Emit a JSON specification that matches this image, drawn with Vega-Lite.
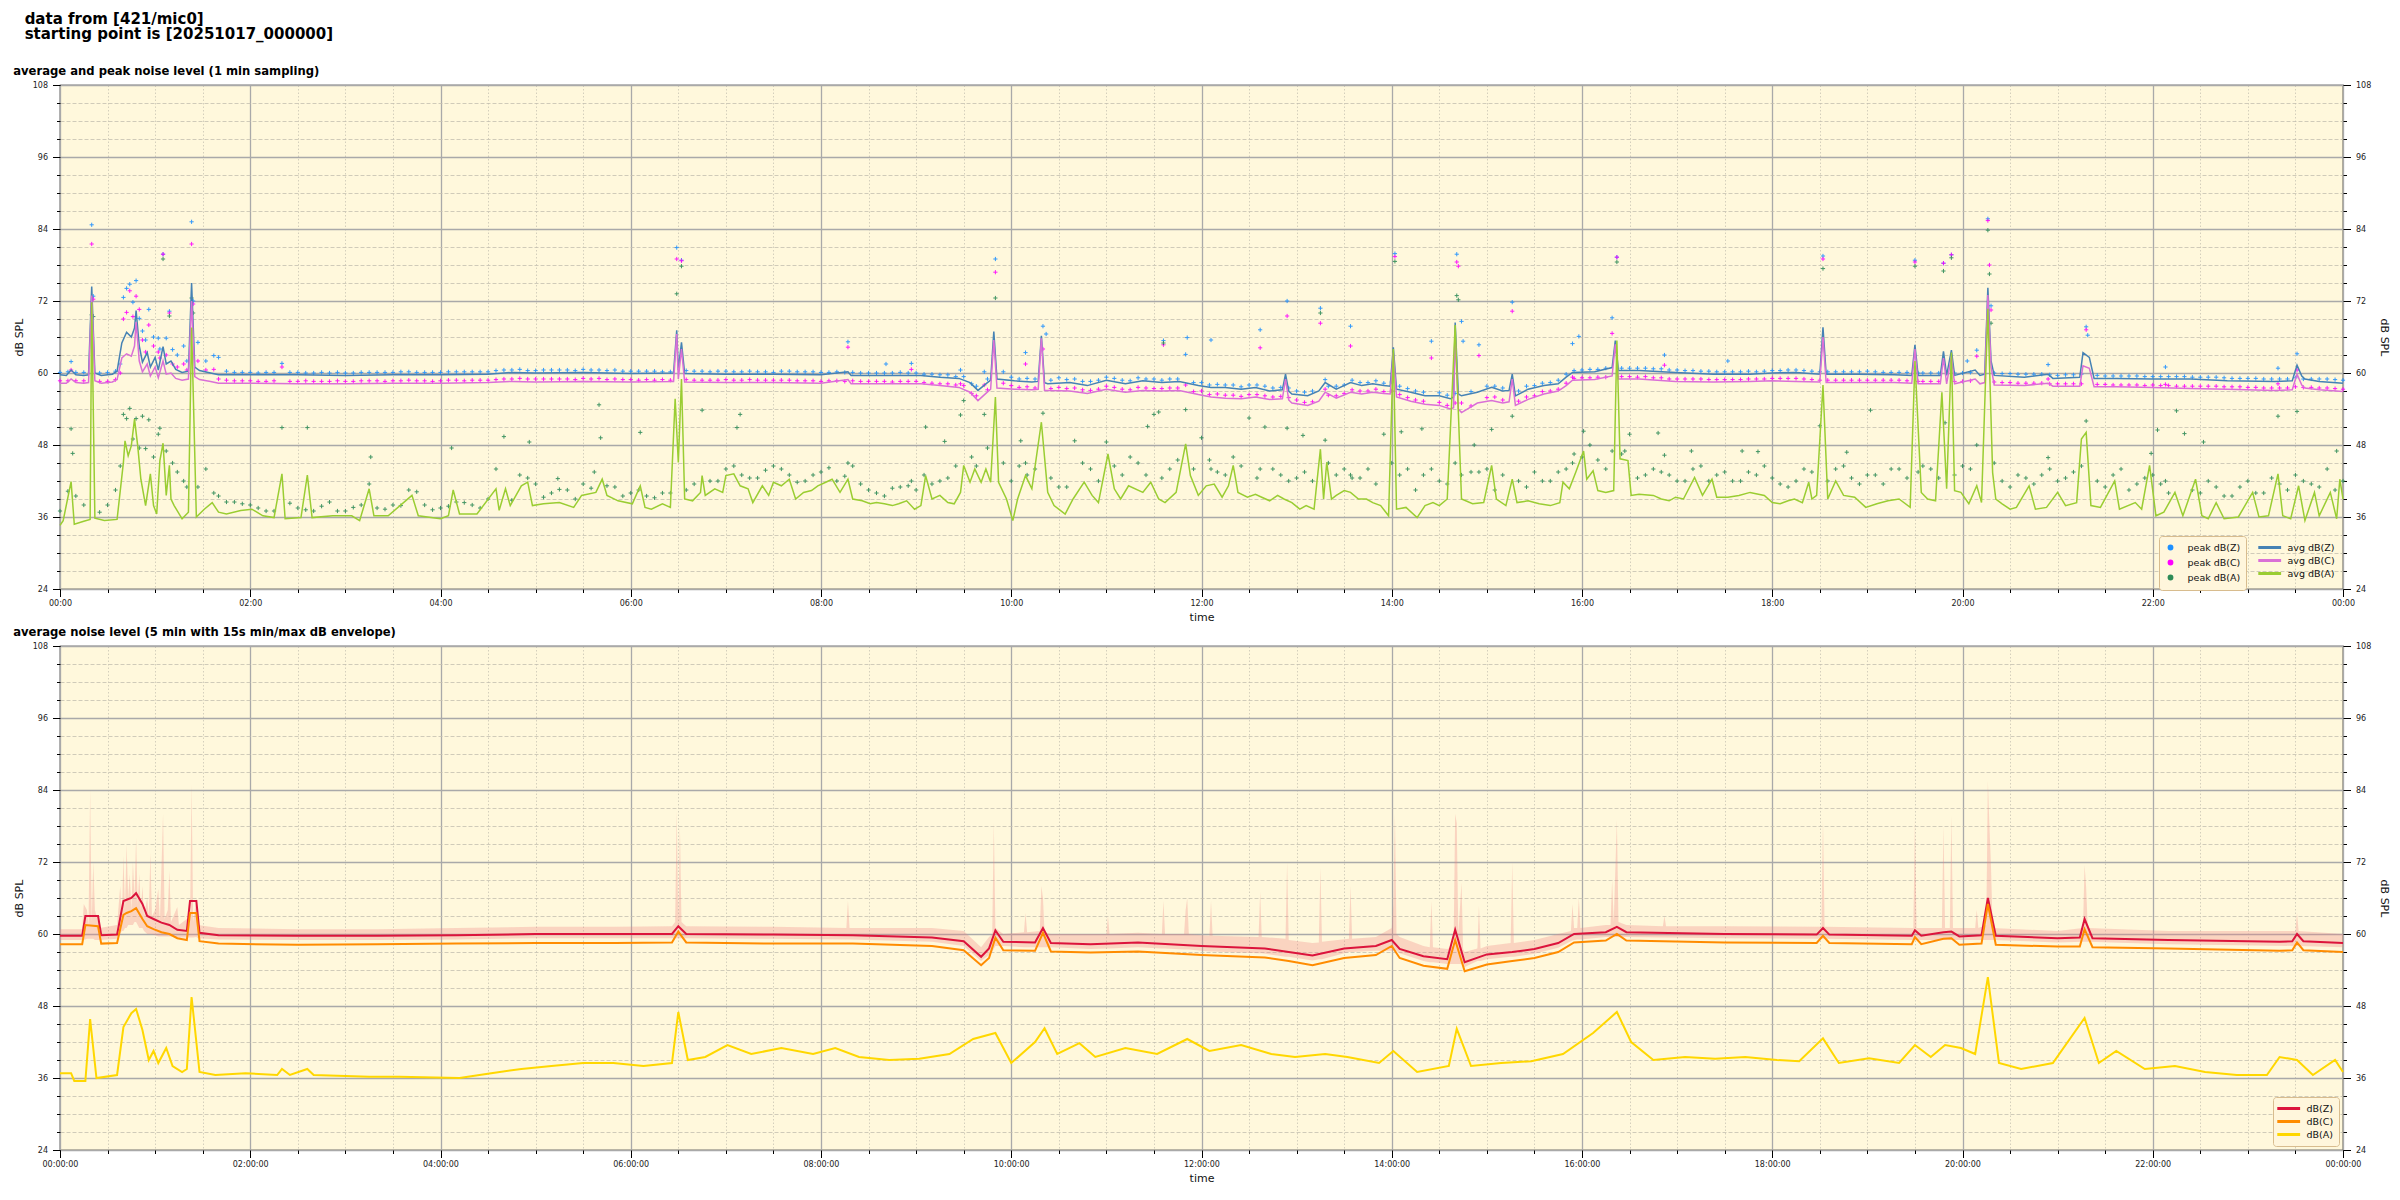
{
"$schema": "https://vega.github.io/schema/vega-lite/v6.json",
"background": "white",
"padding": {"left": 12, "top": 11, "right": 3, "bottom": 5},
"title": {"text": ["data from [421/mic0]", "starting point is [20251017_000000]"], "anchor": "start", "frame": "bounds", "fontSize": 15, "font": "DejaVu Sans", "fontWeight": "bold", "color": "black", "offset": 24, "dx": 12, "lineHeight": 15},
"config": {
  "font": "DejaVu Sans",
  "view": {"fill": "#fff8dc", "stroke": "black", "strokeWidth": 1.2},
  "mark": {"invalid": "filter"},
  "axis": {"labelFont": "DejaVu Sans", "titleFont": "DejaVu Sans", "labelFontSize": 8, "titleFontSize": 11, "titleFontWeight": "normal", "labelColor": "#222", "titleColor": "#111", "tickColor": "#000", "domain": false}
},
"resolve": {"scale": {"color": "independent", "stroke": "independent", "x": "independent", "y": "independent"}},
"spacing": 2,
"datasets": {
"zc": [{"m":0,"Z":59.7,"C":58.3},{"m":4,"Z":59.6,"C":58.3},{"m":7,"Z":60.5,"C":59.0},{"m":10,"Z":59.7,"C":58.4},{"m":15,"Z":59.6,"C":58.3},{"m":18,"Z":59.7,"C":58.4},{"m":20,"Z":74.4,"C":72.9},{"m":22,"Z":60.0,"C":58.7},{"m":26,"Z":59.6,"C":58.3},{"m":33,"Z":59.8,"C":58.5},{"m":36,"Z":60.3,"C":58.9},{"m":39,"Z":65.0,"C":62.5},{"m":42,"Z":66.8,"C":63.2},{"m":45,"Z":66.0,"C":62.8},{"m":47,"Z":67.5,"C":64.5},{"m":48,"Z":70.4,"C":68.5},{"m":50,"Z":64.5,"C":62.0},{"m":52,"Z":61.8,"C":60.2},{"m":55,"Z":63.4,"C":61.5},{"m":57,"Z":61.0,"C":59.5},{"m":60,"Z":62.6,"C":61.0},{"m":62,"Z":60.5,"C":59.2},{"m":65,"Z":64.4,"C":62.0},{"m":67,"Z":61.5,"C":59.8},{"m":70,"Z":62.0,"C":60.0},{"m":73,"Z":60.6,"C":59.1},{"m":77,"Z":60.1,"C":58.8},{"m":81,"Z":60.3,"C":59.0},{"m":83,"Z":75.0,"C":72.0},{"m":85,"Z":61.0,"C":59.4},{"m":88,"Z":60.4,"C":58.9},{"m":95,"Z":60.0,"C":58.6},{"m":100,"Z":59.7,"C":58.3},{"m":120,"Z":59.7,"C":58.3},{"m":150,"Z":59.7,"C":58.2},{"m":180,"Z":59.6,"C":58.2},{"m":210,"Z":59.7,"C":58.3},{"m":240,"Z":59.7,"C":58.3},{"m":270,"Z":59.8,"C":58.4},{"m":285,"Z":60.1,"C":58.6},{"m":300,"Z":60.0,"C":58.5},{"m":330,"Z":60.1,"C":58.6},{"m":360,"Z":59.9,"C":58.5},{"m":387,"Z":60.0,"C":58.6},{"m":389,"Z":67.1,"C":66.5},{"m":390,"Z":60.5,"C":59.0},{"m":392,"Z":65.1,"C":64.0},{"m":394,"Z":59.9,"C":58.5},{"m":420,"Z":59.8,"C":58.4},{"m":450,"Z":59.8,"C":58.4},{"m":480,"Z":59.7,"C":58.3},{"m":497,"Z":60.2,"C":58.9},{"m":499,"Z":59.6,"C":58.2},{"m":520,"Z":59.6,"C":58.2},{"m":543,"Z":59.6,"C":58.2},{"m":555,"Z":59.3,"C":57.9},{"m":567,"Z":59.1,"C":57.6},{"m":574,"Z":58.4,"C":56.8},{"m":579,"Z":57.1,"C":55.4},{"m":584,"Z":58.2,"C":56.6},{"m":587,"Z":58.8,"C":57.3},{"m":589,"Z":66.9,"C":65.5},{"m":591,"Z":59.0,"C":57.5},{"m":602,"Z":58.7,"C":57.3},{"m":613,"Z":58.5,"C":57.2},{"m":617,"Z":58.6,"C":57.3},{"m":619,"Z":66.2,"C":65.8},{"m":621,"Z":58.4,"C":57.1},{"m":623,"Z":58.2,"C":57.1},{"m":637,"Z":58.4,"C":57.0},{"m":648,"Z":57.9,"C":56.6},{"m":660,"Z":58.8,"C":57.3},{"m":672,"Z":58.2,"C":56.8},{"m":683,"Z":58.7,"C":57.1},{"m":695,"Z":58.4,"C":57.0},{"m":706,"Z":58.6,"C":57.1},{"m":718,"Z":57.9,"C":56.4},{"m":726,"Z":57.6,"C":56.0},{"m":735,"Z":57.6,"C":55.8},{"m":745,"Z":57.3,"C":55.7},{"m":754,"Z":57.6,"C":56.0},{"m":763,"Z":57.0,"C":55.6},{"m":771,"Z":57.2,"C":55.7},{"m":773,"Z":59.8,"C":59.0},{"m":775,"Z":57.0,"C":55.5},{"m":777,"Z":56.5,"C":55.0},{"m":787,"Z":56.2,"C":54.6},{"m":794,"Z":57.0,"C":55.3},{"m":798,"Z":58.4,"C":56.8},{"m":805,"Z":57.3,"C":55.8},{"m":814,"Z":58.4,"C":56.8},{"m":821,"Z":57.9,"C":56.5},{"m":828,"Z":58.2,"C":56.8},{"m":835,"Z":57.9,"C":56.6},{"m":839,"Z":57.8,"C":56.5},{"m":841,"Z":64.3,"C":63.4},{"m":843,"Z":57.3,"C":56.0},{"m":852,"Z":56.8,"C":55.3},{"m":861,"Z":56.2,"C":54.8},{"m":870,"Z":56.2,"C":54.6},{"m":877,"Z":55.7,"C":54.0},{"m":879,"Z":56.0,"C":54.2},{"m":880,"Z":68.4,"C":66.2},{"m":882,"Z":56.5,"C":54.0},{"m":884,"Z":56.2,"C":53.4},{"m":894,"Z":56.8,"C":55.0},{"m":903,"Z":57.6,"C":55.4},{"m":910,"Z":57.0,"C":55.0},{"m":914,"Z":57.1,"C":55.2},{"m":916,"Z":59.8,"C":59.0},{"m":918,"Z":56.2,"C":54.6},{"m":926,"Z":57.3,"C":55.6},{"m":936,"Z":57.9,"C":56.5},{"m":945,"Z":58.2,"C":57.0},{"m":950,"Z":59.3,"C":57.9},{"m":954,"Z":60.1,"C":58.8},{"m":968,"Z":60.2,"C":58.9},{"m":979,"Z":60.9,"C":59.5},{"m":981,"Z":65.4,"C":64.8},{"m":983,"Z":60.4,"C":59.0},{"m":996,"Z":60.4,"C":59.0},{"m":1019,"Z":60.1,"C":58.6},{"m":1043,"Z":59.8,"C":58.5},{"m":1066,"Z":59.8,"C":58.6},{"m":1080,"Z":60.0,"C":58.7},{"m":1095,"Z":60.1,"C":58.6},{"m":1110,"Z":59.8,"C":58.5},{"m":1112,"Z":67.6,"C":66.0},{"m":1114,"Z":59.8,"C":58.4},{"m":1134,"Z":59.8,"C":58.4},{"m":1157,"Z":59.7,"C":58.4},{"m":1168,"Z":59.6,"C":58.3},{"m":1170,"Z":64.7,"C":64.0},{"m":1172,"Z":59.6,"C":58.2},{"m":1186,"Z":59.6,"C":58.2},{"m":1188,"Z":63.6,"C":62.5},{"m":1190,"Z":59.6,"C":58.2},{"m":1193,"Z":63.8,"C":62.8},{"m":1195,"Z":59.6,"C":58.2},{"m":1208,"Z":60.5,"C":59.0},{"m":1211,"Z":59.6,"C":58.2},{"m":1214,"Z":59.8,"C":58.4},{"m":1216,"Z":74.2,"C":73.0},{"m":1218,"Z":62.0,"C":61.0},{"m":1220,"Z":59.6,"C":58.0},{"m":1239,"Z":59.3,"C":57.9},{"m":1254,"Z":59.8,"C":58.3},{"m":1257,"Z":59.1,"C":57.8},{"m":1274,"Z":59.3,"C":57.8},{"m":1276,"Z":63.4,"C":61.2},{"m":1280,"Z":62.6,"C":60.8},{"m":1283,"Z":59.1,"C":57.7},{"m":1297,"Z":59.1,"C":57.7},{"m":1320,"Z":59.0,"C":57.6},{"m":1344,"Z":59.0,"C":57.4},{"m":1367,"Z":58.7,"C":57.3},{"m":1397,"Z":58.6,"C":57.1},{"m":1408,"Z":58.7,"C":57.2},{"m":1411,"Z":61.3,"C":59.8},{"m":1414,"Z":59.5,"C":58.0},{"m":1416,"Z":59.0,"C":57.5},{"m":1425,"Z":58.6,"C":57.2},{"m":1440,"Z":58.3,"C":56.9}],
"a": [{"m":0,"A":34.6},{"m":2,"A":35.4},{"m":7,"A":41.9},{"m":9,"A":34.8},{"m":15,"A":35.3},{"m":19,"A":35.6},{"m":20,"A":71.8},{"m":22,"A":35.8},{"m":28,"A":35.4},{"m":36,"A":35.6},{"m":40,"A":45.1},{"m":41,"A":48.7},{"m":43,"A":46.2},{"m":45,"A":47.9},{"m":47,"A":52.3},{"m":49,"A":47.9},{"m":51,"A":42.3},{"m":54,"A":37.9},{"m":57,"A":43.2},{"m":59,"A":37.9},{"m":61,"A":36.5},{"m":63,"A":45.4},{"m":65,"A":48.3},{"m":67,"A":39.6},{"m":69,"A":44.6},{"m":70,"A":39.0},{"m":72,"A":37.9},{"m":77,"A":35.7},{"m":81,"A":36.8},{"m":83,"A":67.6},{"m":86,"A":36.0},{"m":91,"A":37.3},{"m":96,"A":38.4},{"m":100,"A":36.8},{"m":105,"A":36.5},{"m":114,"A":37.1},{"m":121,"A":37.3},{"m":128,"A":36.2},{"m":135,"A":35.9},{"m":140,"A":43.2},{"m":142,"A":35.7},{"m":152,"A":35.9},{"m":156,"A":43.0},{"m":159,"A":35.9},{"m":172,"A":36.2},{"m":184,"A":36.2},{"m":189,"A":35.4},{"m":195,"A":40.7},{"m":198,"A":36.2},{"m":207,"A":36.2},{"m":222,"A":39.6},{"m":226,"A":36.2},{"m":240,"A":35.7},{"m":245,"A":36.2},{"m":248,"A":40.5},{"m":252,"A":36.5},{"m":263,"A":36.5},{"m":275,"A":40.7},{"m":277,"A":37.1},{"m":281,"A":40.7},{"m":284,"A":37.9},{"m":291,"A":41.2},{"m":295,"A":41.8},{"m":298,"A":37.9},{"m":305,"A":38.2},{"m":315,"A":38.4},{"m":324,"A":37.6},{"m":329,"A":39.6},{"m":338,"A":40.1},{"m":342,"A":42.3},{"m":345,"A":39.6},{"m":352,"A":38.7},{"m":361,"A":38.2},{"m":366,"A":41.2},{"m":369,"A":37.6},{"m":373,"A":37.3},{"m":380,"A":38.2},{"m":385,"A":37.6},{"m":388,"A":55.7},{"m":390,"A":45.1},{"m":392,"A":59.0},{"m":394,"A":39.0},{"m":399,"A":38.7},{"m":404,"A":40.1},{"m":405,"A":42.9},{"m":407,"A":39.6},{"m":413,"A":40.7},{"m":418,"A":40.1},{"m":420,"A":42.9},{"m":425,"A":43.2},{"m":429,"A":41.2},{"m":434,"A":40.7},{"m":437,"A":38.4},{"m":443,"A":41.2},{"m":447,"A":39.6},{"m":450,"A":41.8},{"m":455,"A":41.2},{"m":460,"A":42.3},{"m":464,"A":39.0},{"m":469,"A":40.1},{"m":474,"A":40.4},{"m":478,"A":41.2},{"m":483,"A":41.8},{"m":487,"A":42.3},{"m":492,"A":40.1},{"m":497,"A":42.3},{"m":500,"A":39.0},{"m":506,"A":38.7},{"m":511,"A":38.2},{"m":515,"A":38.4},{"m":520,"A":38.2},{"m":525,"A":37.9},{"m":529,"A":38.2},{"m":534,"A":38.7},{"m":539,"A":37.3},{"m":543,"A":37.9},{"m":546,"A":42.9},{"m":550,"A":39.0},{"m":555,"A":39.6},{"m":560,"A":38.4},{"m":564,"A":38.2},{"m":568,"A":40.1},{"m":570,"A":44.6},{"m":574,"A":41.8},{"m":577,"A":44.0},{"m":581,"A":41.8},{"m":584,"A":44.0},{"m":587,"A":41.8},{"m":590,"A":56.0},{"m":592,"A":41.8},{"m":597,"A":39.0},{"m":601,"A":35.4},{"m":604,"A":39.0},{"m":609,"A":42.9},{"m":613,"A":40.7},{"m":619,"A":51.8},{"m":623,"A":40.1},{"m":627,"A":37.9},{"m":634,"A":36.5},{"m":639,"A":39.0},{"m":646,"A":41.8},{"m":651,"A":39.6},{"m":655,"A":38.4},{"m":661,"A":46.5},{"m":665,"A":40.7},{"m":669,"A":39.0},{"m":674,"A":41.2},{"m":683,"A":40.1},{"m":688,"A":41.8},{"m":693,"A":39.0},{"m":697,"A":38.4},{"m":704,"A":40.1},{"m":710,"A":48.2},{"m":713,"A":42.9},{"m":718,"A":39.6},{"m":723,"A":41.2},{"m":728,"A":41.5},{"m":733,"A":39.3},{"m":737,"A":41.2},{"m":740,"A":44.6},{"m":743,"A":40.1},{"m":749,"A":39.3},{"m":754,"A":39.8},{"m":758,"A":39.3},{"m":763,"A":38.7},{"m":768,"A":39.6},{"m":772,"A":39.0},{"m":777,"A":38.4},{"m":782,"A":37.3},{"m":786,"A":37.9},{"m":791,"A":37.3},{"m":795,"A":47.3},{"m":797,"A":39.0},{"m":799,"A":45.1},{"m":802,"A":39.0},{"m":805,"A":39.6},{"m":810,"A":40.4},{"m":814,"A":40.1},{"m":819,"A":39.0},{"m":824,"A":39.0},{"m":828,"A":38.4},{"m":833,"A":37.9},{"m":838,"A":36.2},{"m":841,"A":64.0},{"m":843,"A":37.3},{"m":849,"A":37.6},{"m":856,"A":35.9},{"m":861,"A":37.9},{"m":866,"A":38.4},{"m":870,"A":37.9},{"m":875,"A":39.0},{"m":880,"A":68.0},{"m":884,"A":39.0},{"m":891,"A":38.2},{"m":898,"A":38.4},{"m":903,"A":44.6},{"m":906,"A":39.0},{"m":912,"A":37.9},{"m":916,"A":42.3},{"m":919,"A":38.4},{"m":926,"A":38.7},{"m":933,"A":38.2},{"m":940,"A":37.9},{"m":946,"A":38.4},{"m":948,"A":41.8},{"m":952,"A":40.7},{"m":956,"A":43.4},{"m":961,"A":47.0},{"m":963,"A":42.3},{"m":967,"A":43.7},{"m":970,"A":40.4},{"m":975,"A":40.1},{"m":980,"A":40.4},{"m":982,"A":65.4},{"m":984,"A":45.7},{"m":989,"A":45.4},{"m":991,"A":39.6},{"m":996,"A":39.8},{"m":1005,"A":39.6},{"m":1010,"A":39.0},{"m":1015,"A":38.7},{"m":1019,"A":39.3},{"m":1024,"A":39.0},{"m":1031,"A":42.6},{"m":1036,"A":39.6},{"m":1042,"A":42.3},{"m":1045,"A":39.3},{"m":1052,"A":39.3},{"m":1059,"A":39.6},{"m":1066,"A":40.1},{"m":1075,"A":39.6},{"m":1080,"A":38.4},{"m":1085,"A":38.2},{"m":1090,"A":38.7},{"m":1094,"A":39.0},{"m":1099,"A":38.4},{"m":1103,"A":41.8},{"m":1105,"A":39.0},{"m":1108,"A":39.6},{"m":1112,"A":58.0},{"m":1115,"A":39.0},{"m":1120,"A":42.0},{"m":1125,"A":39.6},{"m":1132,"A":39.3},{"m":1139,"A":37.6},{"m":1146,"A":38.2},{"m":1153,"A":38.7},{"m":1160,"A":39.0},{"m":1167,"A":37.6},{"m":1170,"A":62.0},{"m":1174,"A":40.1},{"m":1178,"A":39.0},{"m":1183,"A":38.7},{"m":1187,"A":56.8},{"m":1190,"A":40.7},{"m":1193,"A":63.4},{"m":1195,"A":40.4},{"m":1199,"A":40.1},{"m":1204,"A":38.2},{"m":1209,"A":41.2},{"m":1212,"A":38.4},{"m":1216,"A":70.7},{"m":1219,"A":43.4},{"m":1221,"A":39.0},{"m":1225,"A":38.2},{"m":1230,"A":37.3},{"m":1234,"A":37.6},{"m":1242,"A":41.2},{"m":1246,"A":37.3},{"m":1253,"A":37.6},{"m":1260,"A":40.1},{"m":1265,"A":37.9},{"m":1272,"A":38.4},{"m":1275,"A":49.0},{"m":1278,"A":50.1},{"m":1281,"A":37.9},{"m":1287,"A":37.6},{"m":1296,"A":42.0},{"m":1299,"A":37.3},{"m":1309,"A":38.4},{"m":1313,"A":37.3},{"m":1318,"A":44.6},{"m":1322,"A":36.2},{"m":1327,"A":36.8},{"m":1334,"A":40.1},{"m":1339,"A":36.2},{"m":1347,"A":42.3},{"m":1351,"A":36.2},{"m":1355,"A":35.7},{"m":1360,"A":38.4},{"m":1365,"A":35.7},{"m":1374,"A":36.0},{"m":1383,"A":40.1},{"m":1387,"A":36.0},{"m":1393,"A":36.2},{"m":1399,"A":43.2},{"m":1402,"A":36.2},{"m":1407,"A":35.7},{"m":1412,"A":41.2},{"m":1416,"A":35.4},{"m":1422,"A":40.1},{"m":1425,"A":36.2},{"m":1432,"A":40.1},{"m":1436,"A":35.7},{"m":1438,"A":42.3},{"m":1440,"A":39.0}],
"pk": [{"m":0,"pZ":60.1,"pC":58.7,"pA":37},{"m":5,"pZ":60.2,"pC":58.7,"pA":40.3},{"m":7,"pZ":61.9,"pC":60.5,"pA":50.7},{"m":8,"pA":46.6},{"m":10,"pZ":60.1,"pC":58.7,"pA":39.5},{"m":15,"pZ":60.1,"pC":58.7,"pA":38},{"m":20,"pZ":84.7,"pC":81.5,"pA":69.7},{"m":21,"pZ":72.8,"pC":72.3,"pA":69.4},{"m":25,"pZ":60.0,"pC":58.6,"pA":36.8},{"m":30,"pZ":60.1,"pC":58.6,"pA":38},{"m":35,"pZ":60.3,"pC":58.9,"pA":40.5},{"m":38,"pZ":61.5,"pC":60,"pA":44.5},{"m":40,"pZ":72.6,"pC":69,"pA":53.1},{"m":42,"pZ":74.1,"pC":70.1,"pA":52.4},{"m":44,"pZ":74.8,"pC":73.7,"pA":54.1},{"m":46,"pZ":71.8,"pC":69.4,"pA":49},{"m":48,"pZ":75.4,"pC":72.8,"pA":52.4},{"m":50,"pZ":69.1,"pC":70.6,"pA":47.5},{"m":52,"pZ":67,"pC":65.5,"pA":52.8},{"m":54,"pZ":65.5,"pC":63.5,"pA":47.4},{"m":56,"pZ":70.6,"pC":68,"pA":52.2},{"m":59,"pZ":66,"pC":64.5,"pA":46},{"m":62,"pZ":65.8,"pC":63.5,"pA":49.8},{"m":63,"pZ":64,"pC":62.5,"pA":50.8},{"m":65,"pZ":79.8,"pC":79.8,"pA":79},{"m":67,"pZ":65.8,"pC":63,"pA":47},{"m":69,"pZ":70.3,"pC":70,"pA":69.5},{"m":71,"pZ":63.9,"pC":61.5,"pA":45},{"m":74,"pZ":63,"pC":61,"pA":43.5},{"m":78,"pZ":64.5,"pC":61.5,"pA":42},{"m":80,"pZ":62,"pC":60.5,"pA":41},{"m":83,"pZ":85.2,"pC":81.5,"pA":72.5},{"m":84,"pZ":72,"pC":71.5,"pA":70},{"m":87,"pZ":65.1,"pC":62,"pA":41},{"m":92,"pZ":62,"pC":60.5,"pA":44},{"m":97,"pZ":62.9,"pC":60.6,"pA":40},{"m":100,"pZ":62.6,"pC":59,"pA":39.5},{"m":105,"pZ":60.3,"pC":58.8,"pA":38.5},{"m":110,"pZ":60.1,"pC":58.7,"pA":38.5},{"m":115,"pZ":60.1,"pC":58.7,"pA":38.2},{"m":120,"pZ":60.1,"pC":58.7,"pA":38},{"m":125,"pZ":60.0,"pC":58.6,"pA":37.5},{"m":130,"pZ":60.1,"pC":58.6,"pA":37},{"m":135,"pZ":60.1,"pC":58.7,"pA":37.0},{"m":140,"pZ":61.6,"pC":61,"pA":50.9},{"m":145,"pZ":60.1,"pC":58.6,"pA":38.3},{"m":150,"pZ":60.1,"pC":58.6,"pA":37.5},{"m":155,"pZ":60.0,"pC":58.7,"pA":37.2},{"m":156,"pA":50.9},{"m":160,"pZ":60,"pC":58.6,"pA":37},{"m":165,"pZ":60.1,"pC":58.6,"pA":37.8},{"m":170,"pZ":60,"pC":58.6,"pA":38.5},{"m":175,"pZ":60.1,"pC":58.7,"pA":37.0},{"m":180,"pZ":60,"pC":58.6,"pA":37},{"m":185,"pZ":60.0,"pC":58.6,"pA":37.6},{"m":190,"pZ":60.1,"pC":58.7,"pA":38},{"m":195,"pZ":60.1,"pC":58.7,"pA":41.5},{"m":196,"pA":46},{"m":200,"pZ":60.1,"pC":58.7,"pA":37.5},{"m":205,"pZ":60.1,"pC":58.6,"pA":37.3},{"m":210,"pZ":60.1,"pC":58.7,"pA":38},{"m":215,"pZ":60.2,"pC":58.7,"pA":37.9},{"m":220,"pZ":60.2,"pC":58.8,"pA":40.5},{"m":225,"pZ":60.1,"pC":58.7,"pA":40.2},{"m":230,"pZ":60.1,"pC":58.7,"pA":38},{"m":235,"pZ":60.1,"pC":58.6,"pA":37.2},{"m":240,"pZ":60.1,"pC":58.7,"pA":37.5},{"m":245,"pZ":60.2,"pC":58.8,"pA":37.8},{"m":247,"pA":47.5},{"m":250,"pZ":60.2,"pC":58.8,"pA":38.5},{"m":255,"pZ":60.2,"pC":58.7,"pA":38.4},{"m":260,"pZ":60.2,"pC":58.8,"pA":38},{"m":265,"pZ":60.2,"pC":58.8,"pA":37.5},{"m":270,"pZ":60.2,"pC":58.8,"pA":39},{"m":275,"pZ":60.4,"pC":58.9,"pA":44},{"m":280,"pZ":60.5,"pC":59,"pA":49.4},{"m":285,"pZ":60.5,"pC":59.0,"pA":38.8},{"m":290,"pZ":60.6,"pC":59.1,"pA":43},{"m":295,"pZ":60.4,"pC":59.0,"pA":42.5},{"m":296,"pA":48.5},{"m":300,"pZ":60.4,"pC":59,"pA":41.5},{"m":305,"pZ":60.5,"pC":59.0,"pA":39.3},{"m":310,"pZ":60.5,"pC":59,"pA":40},{"m":314,"pA":42.4},{"m":315,"pZ":60.5,"pC":59.0,"pA":40.6},{"m":320,"pZ":60.5,"pC":59,"pA":40.5},{"m":325,"pZ":60.4,"pC":58.9,"pA":39.0},{"m":330,"pZ":60.6,"pC":59.1,"pA":41.5},{"m":335,"pZ":60.5,"pC":59.0,"pA":40.8},{"m":337,"pA":43.5},{"m":340,"pZ":60.5,"pC":59.1,"pA":54.7},{"m":341,"pA":49.2},{"m":345,"pZ":60.4,"pC":58.9,"pA":41.2},{"m":350,"pZ":60.5,"pC":59,"pA":41},{"m":355,"pZ":60.3,"pC":58.9,"pA":39.5},{"m":360,"pZ":60.3,"pC":58.9,"pA":40},{"m":365,"pZ":60.3,"pC":58.8,"pA":40.5},{"m":366,"pA":50.1},{"m":370,"pZ":60.3,"pC":58.9,"pA":39.5},{"m":375,"pZ":60.3,"pC":58.8,"pA":39.2},{"m":380,"pZ":60.2,"pC":58.9,"pA":40},{"m":385,"pZ":60.2,"pC":58.8,"pA":40.0},{"m":389,"pZ":80.9,"pC":79,"pA":73.2},{"m":392,"pZ":78.8,"pC":78.7,"pA":77.8},{"m":395,"pZ":60.4,"pC":58.9,"pA":40.5},{"m":400,"pZ":60.3,"pC":58.8,"pA":41.5},{"m":405,"pZ":60.3,"pC":58.8,"pA":53.8},{"m":410,"pZ":60.2,"pC":58.8,"pA":42},{"m":415,"pZ":60.3,"pC":58.8,"pA":42.0},{"m":420,"pZ":60.3,"pC":58.9,"pA":44},{"m":425,"pZ":60.2,"pC":58.8,"pA":44.5},{"m":427,"pA":50.9},{"m":429,"pA":53.1},{"m":430,"pZ":60.2,"pC":58.8,"pA":43},{"m":435,"pZ":60.3,"pC":58.9,"pA":42.5},{"m":440,"pZ":60.2,"pC":58.8,"pA":42.5},{"m":445,"pZ":60.2,"pC":58.8,"pA":43.8},{"m":450,"pZ":60.1,"pC":58.8,"pA":44.5},{"m":455,"pZ":60.3,"pC":58.8,"pA":44.0},{"m":460,"pZ":60.3,"pC":58.8,"pA":43},{"m":465,"pZ":60.2,"pC":58.7,"pA":41.8},{"m":470,"pZ":60.2,"pC":58.7,"pA":42},{"m":475,"pZ":60.2,"pC":58.7,"pA":43.0},{"m":480,"pZ":60.1,"pC":58.6,"pA":43.5},{"m":485,"pZ":60.1,"pC":58.7,"pA":44.2},{"m":490,"pZ":60.2,"pC":58.7,"pA":42},{"m":495,"pZ":60.1,"pC":58.6,"pA":42.8},{"m":497,"pZ":65.2,"pC":64.3,"pA":45},{"m":500,"pZ":60.1,"pC":58.7,"pA":44.5},{"m":505,"pZ":60.0,"pC":58.6,"pA":41.5},{"m":510,"pZ":60,"pC":58.6,"pA":40.5},{"m":515,"pZ":60.0,"pC":58.6,"pA":40.0},{"m":520,"pZ":60,"pC":58.6,"pA":39.5},{"m":521,"pZ":61.5},{"m":525,"pZ":60.0,"pC":58.5,"pA":40.8},{"m":530,"pZ":60.1,"pC":58.6,"pA":41},{"m":535,"pZ":60.0,"pC":58.6,"pA":41.2},{"m":537,"pZ":61.6,"pC":60.6,"pA":42},{"m":540,"pZ":60,"pC":58.6,"pA":40.5},{"m":545,"pZ":59.8,"pC":58.4,"pA":43.0},{"m":546,"pA":51},{"m":550,"pZ":59.8,"pC":58.3,"pA":41.5},{"m":555,"pZ":59.7,"pC":58.2,"pA":42.0},{"m":558,"pA":48.6},{"m":560,"pZ":59.7,"pC":58.2,"pA":42.5},{"m":565,"pZ":59.4,"pC":58.0,"pA":44.5},{"m":568,"pZ":60.5,"pC":58.2,"pA":53},{"m":570,"pZ":59.4,"pC":57.9,"pA":55.4},{"m":575,"pZ":58.2,"pC":56.6,"pA":46.0},{"m":578,"pZ":57.8,"pC":56.2,"pA":44.5},{"m":583,"pZ":60.2,"pC":58,"pA":53.1},{"m":585,"pZ":59.0,"pC":57.2,"pA":47.5},{"m":590,"pZ":79,"pC":76.8,"pA":72.5},{"m":595,"pZ":60.2,"pC":58.3,"pA":45},{"m":600,"pZ":59.3,"pC":57.9,"pA":42},{"m":605,"pZ":59.0,"pC":57.6,"pA":44.5},{"m":606,"pA":48.7},{"m":609,"pZ":63.4,"pC":61.5,"pA":45},{"m":610,"pZ":59.1,"pC":57.7,"pA":43},{"m":615,"pZ":59.0,"pC":57.5,"pA":44.0},{"m":620,"pZ":67.8,"pC":64,"pA":53.3},{"m":622,"pZ":66.5},{"m":625,"pZ":58.8,"pC":57.4,"pA":42.5},{"m":630,"pZ":59.2,"pC":57.6,"pA":41},{"m":635,"pZ":58.9,"pC":57.4,"pA":41.0},{"m":640,"pZ":59,"pC":57.5,"pA":48.7},{"m":645,"pZ":58.6,"pC":57.2,"pA":45.0},{"m":650,"pZ":58.6,"pC":57.1,"pA":44},{"m":655,"pZ":58.8,"pC":57.3,"pA":42.0},{"m":660,"pZ":59.3,"pC":57.8,"pA":48.5},{"m":665,"pZ":59.1,"pC":57.6,"pA":44.5},{"m":670,"pZ":58.8,"pC":57.3,"pA":43},{"m":675,"pZ":58.7,"pC":57.2,"pA":46.0},{"m":680,"pZ":59.2,"pC":57.6,"pA":45},{"m":685,"pZ":59.0,"pC":57.5,"pA":43.0},{"m":686,"pA":51.1},{"m":690,"pZ":59,"pC":57.4,"pA":53.1},{"m":693,"pA":53.5},{"m":695,"pZ":58.8,"pC":57.4,"pA":42.5},{"m":696,"pZ":65.4,"pC":64.7,"pA":65},{"m":700,"pZ":59,"pC":57.5,"pA":44},{"m":705,"pZ":59.0,"pC":57.5,"pA":45.5},{"m":710,"pZ":63.1,"pC":58,"pA":53.9},{"m":711,"pZ":65.9},{"m":715,"pZ":58.4,"pC":56.9,"pA":44.0},{"m":720,"pZ":58.4,"pC":57,"pA":49.2},{"m":725,"pZ":58.0,"pC":56.4,"pA":45.5},{"m":726,"pZ":65.5,"pA":44},{"m":730,"pZ":58.1,"pC":56.5,"pA":43.5},{"m":735,"pZ":58.0,"pC":56.3,"pA":43.0},{"m":740,"pZ":58,"pC":56.3,"pA":46},{"m":745,"pZ":57.7,"pC":56.1,"pA":44.5},{"m":750,"pZ":58,"pC":56.4,"pA":52.5},{"m":755,"pZ":58.0,"pC":56.4,"pA":42.5},{"m":757,"pZ":67.2,"pC":64.2,"pA":44},{"m":760,"pZ":57.8,"pC":56.2,"pA":51},{"m":765,"pZ":57.5,"pC":56.0,"pA":44.0},{"m":770,"pZ":57.6,"pC":56.1,"pA":43},{"m":774,"pZ":72,"pC":69.5,"pA":50.8},{"m":775,"pZ":57.5,"pC":55.9,"pA":42.0},{"m":780,"pZ":57,"pC":55.5,"pA":42.5},{"m":784,"pA":49.6},{"m":785,"pZ":56.8,"pC":55.1,"pA":43.5},{"m":790,"pZ":57,"pC":55.2,"pA":42},{"m":795,"pZ":70.8,"pC":68.3,"pA":70},{"m":798,"pZ":58.9,"pC":57.3,"pA":48.8},{"m":800,"pZ":57.8,"pC":56.3,"pA":45},{"m":805,"pZ":57.8,"pC":56.2,"pA":43.0},{"m":810,"pZ":58,"pC":56.6,"pA":44},{"m":814,"pZ":67.8,"pC":64.5,"pA":43},{"m":815,"pZ":58.8,"pC":57.2,"pA":42.5},{"m":820,"pZ":58.4,"pC":57,"pA":42.5},{"m":825,"pZ":58.4,"pC":57.0,"pA":44.0},{"m":830,"pZ":58.7,"pC":57.3,"pA":41.5},{"m":835,"pZ":58.3,"pC":56.9,"pA":49.8},{"m":840,"pZ":58.5,"pC":57,"pA":45},{"m":842,"pZ":79.9,"pC":79.4,"pA":78.6},{"m":845,"pZ":57.8,"pC":56.4,"pA":43.0},{"m":846,"pA":50.2},{"m":850,"pZ":57.4,"pC":55.9,"pA":44},{"m":855,"pZ":57.0,"pC":55.5,"pA":40.5},{"m":859,"pA":50.7},{"m":860,"pZ":56.8,"pC":55.3,"pA":43},{"m":865,"pZ":65.3,"pC":62.5,"pA":44},{"m":870,"pZ":56.7,"pC":55.1,"pA":42},{"m":875,"pZ":56.3,"pC":54.6,"pA":41.5},{"m":880,"pZ":56.6,"pC":55,"pA":45},{"m":881,"pZ":79.8,"pC":78.5,"pA":72.9},{"m":882,"pC":77.8,"pA":72.2},{"m":884,"pZ":68.6,"pC":55,"pA":43},{"m":885,"pZ":65.3},{"m":890,"pZ":56.9,"pC":54.5,"pA":43.5},{"m":892,"pA":48},{"m":895,"pZ":64.7,"pC":62.9,"pA":43.5},{"m":900,"pZ":57.8,"pC":55.9,"pA":44},{"m":903,"pA":50.6},{"m":905,"pZ":57.8,"pC":56.0,"pA":40.5},{"m":910,"pZ":57.5,"pC":55.5,"pA":43},{"m":916,"pZ":71.8,"pC":70.3,"pA":52.8},{"m":920,"pZ":57,"pC":55.3,"pA":42},{"m":925,"pZ":57.8,"pC":56.0,"pA":41.0},{"m":930,"pZ":57.9,"pC":56.2,"pA":43.5},{"m":935,"pZ":58.3,"pC":56.9,"pA":42.0},{"m":940,"pZ":58.4,"pC":57,"pA":42},{"m":945,"pZ":58.8,"pC":57.3,"pA":43.5},{"m":950,"pZ":59.8,"pC":58.3,"pA":44},{"m":954,"pZ":64.9,"pC":59.3,"pA":45},{"m":955,"pZ":60.4,"pC":59.1,"pA":46.5},{"m":958,"pZ":66.1},{"m":960,"pZ":60.5,"pC":59.2,"pA":46},{"m":961,"pA":50.3},{"m":965,"pZ":60.6,"pC":59.2,"pA":48.0},{"m":970,"pZ":60.6,"pC":59.3,"pA":45.5},{"m":975,"pZ":60.8,"pC":59.3,"pA":44.0},{"m":979,"pZ":69.2,"pC":66.6,"pA":47},{"m":982,"pZ":79.3,"pC":79.3,"pA":78.5},{"m":985,"pZ":60.8,"pC":59.4,"pA":46.5},{"m":987,"pA":47},{"m":990,"pZ":60.8,"pC":59.4,"pA":49.8},{"m":995,"pZ":60.8,"pC":59.3,"pA":42.5},{"m":1000,"pZ":60.8,"pC":59.4,"pA":43},{"m":1005,"pZ":60.7,"pC":59.2,"pA":44.0},{"m":1008,"pA":50},{"m":1010,"pZ":60.7,"pC":59.2,"pA":43.5},{"m":1012,"pZ":63,"pC":61.3,"pA":46.3},{"m":1015,"pZ":60.5,"pC":59.0,"pA":43.0},{"m":1020,"pZ":60.5,"pC":59,"pA":42},{"m":1025,"pZ":60.4,"pC":59.0,"pA":42.0},{"m":1029,"pA":47},{"m":1030,"pZ":60.4,"pC":59,"pA":44},{"m":1035,"pZ":60.3,"pC":59.0,"pA":44.5},{"m":1040,"pZ":60.3,"pC":58.9,"pA":42},{"m":1045,"pZ":60.2,"pC":58.9,"pA":43.0},{"m":1050,"pZ":60.2,"pC":58.9,"pA":43.5},{"m":1052,"pZ":62},{"m":1055,"pZ":60.2,"pC":58.9,"pA":42.0},{"m":1060,"pZ":60.2,"pC":58.9,"pA":42},{"m":1061,"pA":47},{"m":1065,"pZ":60.3,"pC":59.0,"pA":43.5},{"m":1070,"pZ":60.2,"pC":59,"pA":43},{"m":1071,"pA":46.9},{"m":1075,"pZ":60.3,"pC":59.0,"pA":44.5},{"m":1080,"pZ":60.4,"pC":59.1,"pA":42.5},{"m":1085,"pZ":60.4,"pC":59.1,"pA":41.5},{"m":1090,"pZ":60.5,"pC":59.1,"pA":41},{"m":1095,"pZ":60.5,"pC":59.1,"pA":42.0},{"m":1100,"pZ":60.4,"pC":59,"pA":44},{"m":1105,"pZ":60.3,"pC":58.9,"pA":43.5},{"m":1110,"pZ":60.2,"pC":58.8,"pA":51.2},{"m":1112,"pZ":79.5,"pC":79,"pA":77.4},{"m":1115,"pZ":60.2,"pC":58.8,"pA":42.0},{"m":1120,"pZ":60.2,"pC":58.8,"pA":44},{"m":1125,"pZ":60.2,"pC":58.8,"pA":44.5},{"m":1127,"pA":46.8},{"m":1130,"pZ":60.2,"pC":58.8,"pA":42.5},{"m":1135,"pZ":60.2,"pC":58.8,"pA":41.5},{"m":1140,"pZ":60.3,"pC":58.8,"pA":43},{"m":1142,"pA":53.8},{"m":1145,"pZ":60.2,"pC":58.8,"pA":43.0},{"m":1150,"pZ":60.1,"pC":58.8,"pA":41.5},{"m":1155,"pZ":60.1,"pC":58.8,"pA":44.0},{"m":1160,"pZ":60.1,"pC":58.8,"pA":44},{"m":1165,"pZ":60.1,"pC":58.7,"pA":42.5},{"m":1170,"pZ":78.8,"pC":78.5,"pA":77.8},{"m":1172,"pZ":60,"pC":58.6,"pA":43.5},{"m":1175,"pZ":60.0,"pC":58.6,"pA":44.5},{"m":1180,"pZ":60,"pC":58.6,"pA":44},{"m":1185,"pZ":60.0,"pC":58.6,"pA":42.5},{"m":1188,"pZ":78.3,"pC":78.3,"pA":77},{"m":1189,"pA":51.7},{"m":1193,"pZ":79.7,"pC":79.7,"pA":79.2},{"m":1195,"pZ":60.0,"pC":58.6,"pA":43.0},{"m":1200,"pZ":60,"pC":58.6,"pA":44.5},{"m":1203,"pZ":62},{"m":1205,"pZ":60.1,"pC":58.7,"pA":44.0},{"m":1209,"pZ":63.8,"pC":62.8,"pA":48},{"m":1216,"pZ":85.7,"pC":85.4,"pA":83.8},{"m":1217,"pC":78,"pA":76.5},{"m":1218,"pZ":71.2,"pC":70.5,"pA":68.3},{"m":1220,"pZ":60,"pC":58.5,"pA":45},{"m":1225,"pZ":59.9,"pC":58.4,"pA":42.0},{"m":1230,"pZ":59.9,"pC":58.4,"pA":41},{"m":1235,"pZ":59.8,"pC":58.3,"pA":43.0},{"m":1240,"pZ":59.8,"pC":58.3,"pA":42.5},{"m":1245,"pZ":59.8,"pC":58.3,"pA":41.5},{"m":1250,"pZ":59.8,"pC":58.3,"pA":43},{"m":1254,"pZ":61.4,"pC":59,"pA":45.9},{"m":1255,"pZ":59.7,"pC":58.2,"pA":44.0},{"m":1260,"pZ":59.6,"pC":58.2,"pA":42},{"m":1265,"pZ":59.7,"pC":58.2,"pA":42.5},{"m":1270,"pZ":59.7,"pC":58.2,"pA":43.5},{"m":1275,"pZ":59.8,"pC":58.2,"pA":44.5},{"m":1278,"pZ":67.7,"pC":67.2,"pA":52},{"m":1279,"pZ":66.3},{"m":1285,"pZ":59.6,"pC":58.1,"pA":42.0},{"m":1290,"pZ":59.5,"pC":58.1,"pA":41},{"m":1295,"pZ":59.5,"pC":58.0,"pA":43.0},{"m":1300,"pZ":59.5,"pC":58,"pA":44},{"m":1305,"pZ":59.5,"pC":58.0,"pA":40.5},{"m":1310,"pZ":59.5,"pC":58,"pA":41.5},{"m":1315,"pZ":59.4,"pC":57.9,"pA":42.5},{"m":1319,"pA":46.6},{"m":1320,"pZ":59.4,"pC":58,"pA":43},{"m":1323,"pA":50.5},{"m":1325,"pZ":59.4,"pC":57.9,"pA":41.5},{"m":1328,"pZ":61,"pC":58.1,"pA":42},{"m":1330,"pZ":59.4,"pC":57.9,"pA":40},{"m":1335,"pZ":59.4,"pC":57.8,"pA":53.7},{"m":1340,"pZ":59.4,"pC":57.8,"pA":49.9},{"m":1345,"pZ":59.3,"pC":57.8,"pA":40.5},{"m":1350,"pZ":59.3,"pC":57.8,"pA":40},{"m":1352,"pA":48.5},{"m":1355,"pZ":59.3,"pC":57.8,"pA":42.0},{"m":1360,"pZ":59.3,"pC":57.8,"pA":41},{"m":1365,"pZ":59.2,"pC":57.7,"pA":39.5},{"m":1370,"pZ":59.1,"pC":57.7,"pA":39.5},{"m":1375,"pZ":59.1,"pC":57.7,"pA":41.0},{"m":1380,"pZ":59.1,"pC":57.6,"pA":42},{"m":1385,"pZ":59.1,"pC":57.6,"pA":40.0},{"m":1390,"pZ":59,"pC":57.5,"pA":40},{"m":1395,"pZ":59.0,"pC":57.5,"pA":42.5},{"m":1399,"pZ":60.8,"pC":58.2,"pA":52.8},{"m":1400,"pZ":59,"pC":57.5,"pA":41.5},{"m":1405,"pZ":59.0,"pC":57.5,"pA":40.5},{"m":1410,"pZ":59.2,"pC":57.7,"pA":43},{"m":1411,"pZ":63.2,"pC":60.5,"pA":53.6},{"m":1415,"pZ":59.0,"pC":57.6,"pA":42.0},{"m":1420,"pZ":59,"pC":57.6,"pA":41.5},{"m":1425,"pZ":59.0,"pC":57.5,"pA":41.0},{"m":1430,"pZ":59,"pC":57.5,"pA":44},{"m":1435,"pZ":58.9,"pC":57.4,"pA":40.5},{"m":1436,"pA":47},{"m":1440,"pZ":58.8,"pC":57.3,"pA":42}],
"bzc": [{"m":0,"Z":59.7,"C":58.3},{"m":14,"Z":59.7,"C":58.3},{"m":16,"Z":63.0,"C":61.5},{"m":24,"Z":63.0,"C":61.3},{"m":26,"Z":59.8,"C":58.4},{"m":36,"Z":59.9,"C":58.5},{"m":40,"Z":65.5,"C":63.2},{"m":42,"Z":65.7,"C":63.5},{"m":45,"Z":66.0,"C":63.8},{"m":48,"Z":66.8,"C":64.3},{"m":52,"Z":65.0,"C":62.5},{"m":55,"Z":63.0,"C":61.3},{"m":59,"Z":62.5,"C":60.8},{"m":64,"Z":61.9,"C":60.3},{"m":69,"Z":61.5,"C":60.0},{"m":74,"Z":60.7,"C":59.3},{"m":80,"Z":60.5,"C":59.0},{"m":82,"Z":65.5,"C":63.5},{"m":86,"Z":65.5,"C":63.5},{"m":88,"Z":60.2,"C":58.8},{"m":100,"Z":59.8,"C":58.4},{"m":150,"Z":59.7,"C":58.2},{"m":200,"Z":59.7,"C":58.3},{"m":250,"Z":59.8,"C":58.4},{"m":300,"Z":60.0,"C":58.5},{"m":350,"Z":60.0,"C":58.5},{"m":386,"Z":60.0,"C":58.6},{"m":390,"Z":61.3,"C":60.4},{"m":395,"Z":60.0,"C":58.6},{"m":450,"Z":59.9,"C":58.4},{"m":500,"Z":59.8,"C":58.4},{"m":550,"Z":59.4,"C":58.0},{"m":570,"Z":58.8,"C":57.3},{"m":581,"Z":56.2,"C":54.8},{"m":586,"Z":57.6,"C":56.0},{"m":590,"Z":60.6,"C":59.4},{"m":595,"Z":58.7,"C":57.3},{"m":615,"Z":58.6,"C":57.2},{"m":620,"Z":61.0,"C":60.2},{"m":625,"Z":58.5,"C":57.1},{"m":650,"Z":58.3,"C":56.9},{"m":680,"Z":58.6,"C":57.1},{"m":720,"Z":58.0,"C":56.5},{"m":760,"Z":57.6,"C":56.1},{"m":775,"Z":57.0,"C":55.5},{"m":790,"Z":56.4,"C":54.8},{"m":810,"Z":57.6,"C":56.0},{"m":830,"Z":58.0,"C":56.5},{"m":840,"Z":59.0,"C":58.0},{"m":845,"Z":57.5,"C":56.0},{"m":860,"Z":56.3,"C":54.7},{"m":875,"Z":55.8,"C":54.2},{"m":880,"Z":60.7,"C":59.0},{"m":886,"Z":55.3,"C":53.8},{"m":900,"Z":56.6,"C":54.9},{"m":916,"Z":57.0,"C":55.5},{"m":930,"Z":57.5,"C":56.0},{"m":945,"Z":58.5,"C":57.0},{"m":955,"Z":60.0,"C":58.6},{"m":975,"Z":60.3,"C":58.9},{"m":982,"Z":61.2,"C":60.0},{"m":988,"Z":60.3,"C":58.9},{"m":1050,"Z":60.0,"C":58.6},{"m":1108,"Z":59.9,"C":58.5},{"m":1112,"Z":61.0,"C":59.7},{"m":1116,"Z":59.9,"C":58.5},{"m":1168,"Z":59.7,"C":58.3},{"m":1170,"Z":60.6,"C":59.5},{"m":1174,"Z":59.7,"C":58.3},{"m":1188,"Z":60.3,"C":59.2},{"m":1193,"Z":60.4,"C":59.3},{"m":1198,"Z":59.6,"C":58.2},{"m":1212,"Z":59.8,"C":58.4},{"m":1216,"Z":66.0,"C":65.0},{"m":1221,"Z":59.7,"C":58.2},{"m":1260,"Z":59.3,"C":57.9},{"m":1274,"Z":59.4,"C":57.9},{"m":1277,"Z":62.5,"C":60.8},{"m":1282,"Z":59.3,"C":57.8},{"m":1330,"Z":59.0,"C":57.6},{"m":1400,"Z":58.7,"C":57.2},{"m":1408,"Z":58.8,"C":57.3},{"m":1411,"Z":60.0,"C":58.6},{"m":1415,"Z":58.8,"C":57.3},{"m":1440,"Z":58.5,"C":57.0}],
"env": [{"m":0,"lo":59.0,"hi":60.8},{"m":14,"lo":59.0,"hi":60.8},{"m":15,"lo":59.0,"hi":65},{"m":17,"lo":59.2,"hi":64},{"m":18,"lo":59.2,"hi":61.5},{"m":19,"lo":59.2,"hi":84},{"m":20,"lo":59.2,"hi":62},{"m":21,"lo":59.2,"hi":72},{"m":22,"lo":59.0,"hi":64},{"m":25,"lo":59.0,"hi":61},{"m":36,"lo":59.2,"hi":61.5},{"m":38,"lo":60.0,"hi":68},{"m":39,"lo":60.5,"hi":62},{"m":40,"lo":60.5,"hi":73},{"m":41,"lo":61,"hi":64},{"m":42,"lo":61,"hi":75},{"m":43,"lo":61.5,"hi":66},{"m":44,"lo":61.5,"hi":70},{"m":45,"lo":61.5,"hi":64},{"m":46,"lo":61.5,"hi":72},{"m":47,"lo":62,"hi":66},{"m":48,"lo":62,"hi":76},{"m":49,"lo":61.5,"hi":65},{"m":50,"lo":61,"hi":70},{"m":51,"lo":61,"hi":64},{"m":52,"lo":61,"hi":68},{"m":53,"lo":60.5,"hi":63},{"m":55,"lo":60,"hi":66},{"m":56,"lo":60,"hi":63},{"m":57,"lo":60,"hi":73.5},{"m":58,"lo":60,"hi":63},{"m":60,"lo":59.8,"hi":64},{"m":62,"lo":59.6,"hi":67.5},{"m":63,"lo":59.6,"hi":62},{"m":65,"lo":59.6,"hi":80},{"m":66,"lo":59.6,"hi":62.5},{"m":68,"lo":59.6,"hi":64},{"m":69,"lo":59.6,"hi":70.5},{"m":70,"lo":59.6,"hi":62},{"m":74,"lo":59.4,"hi":64.5},{"m":75,"lo":59.4,"hi":61.5},{"m":80,"lo":59.4,"hi":62.5},{"m":82,"lo":59.4,"hi":61.5},{"m":83,"lo":59.4,"hi":85},{"m":84,"lo":59.4,"hi":62},{"m":86,"lo":59.5,"hi":66},{"m":87,"lo":59.3,"hi":61.5},{"m":100,"lo":59.1,"hi":61},{"m":150,"lo":59,"hi":60.8},{"m":200,"lo":59,"hi":60.8},{"m":250,"lo":59.1,"hi":61},{"m":300,"lo":59.3,"hi":61.2},{"m":350,"lo":59.3,"hi":61.2},{"m":386,"lo":59.3,"hi":61.3},{"m":388,"lo":59.3,"hi":62},{"m":389,"lo":59.3,"hi":80.5},{"m":390,"lo":59.3,"hi":62},{"m":391,"lo":59.3,"hi":78},{"m":392,"lo":59.3,"hi":62},{"m":395,"lo":59.3,"hi":61.3},{"m":450,"lo":59.2,"hi":61.2},{"m":496,"lo":59.1,"hi":61},{"m":497,"lo":59.1,"hi":65.5},{"m":498,"lo":59.1,"hi":61},{"m":550,"lo":58.7,"hi":61},{"m":570,"lo":58,"hi":60.5},{"m":581,"lo":55.5,"hi":57.8},{"m":586,"lo":56.5,"hi":59.5},{"m":588,"lo":57,"hi":60},{"m":589,"lo":57.5,"hi":78.5},{"m":590,"lo":58,"hi":61},{"m":595,"lo":58,"hi":60},{"m":608,"lo":57.8,"hi":60.3},{"m":609,"lo":57.8,"hi":63.5},{"m":610,"lo":57.8,"hi":60.3},{"m":618,"lo":57.8,"hi":60.5},{"m":619,"lo":57.8,"hi":68},{"m":620,"lo":57.8,"hi":66},{"m":621,"lo":57.8,"hi":60.3},{"m":625,"lo":57.8,"hi":60},{"m":650,"lo":57.5,"hi":60},{"m":660,"lo":57.6,"hi":60},{"m":661,"lo":57.6,"hi":63},{"m":662,"lo":57.6,"hi":60},{"m":680,"lo":57.8,"hi":60.2},{"m":695,"lo":57.6,"hi":60},{"m":696,"lo":57.6,"hi":65.5},{"m":697,"lo":57.6,"hi":60},{"m":709,"lo":57.4,"hi":60},{"m":710,"lo":57.4,"hi":64},{"m":711,"lo":57.4,"hi":66},{"m":712,"lo":57.4,"hi":60},{"m":720,"lo":57.2,"hi":59.8},{"m":725,"lo":57.1,"hi":59.7},{"m":726,"lo":57.1,"hi":65.5},{"m":727,"lo":57.1,"hi":59.7},{"m":756,"lo":56.8,"hi":59.5},{"m":757,"lo":56.8,"hi":67},{"m":758,"lo":56.8,"hi":59.5},{"m":773,"lo":56.2,"hi":59.2},{"m":774,"lo":56.2,"hi":72},{"m":775,"lo":56.2,"hi":59},{"m":790,"lo":55.6,"hi":58.5},{"m":794,"lo":55.8,"hi":58.6},{"m":795,"lo":55.8,"hi":71},{"m":796,"lo":55.8,"hi":58.7},{"m":813,"lo":57,"hi":59.2},{"m":814,"lo":57,"hi":68},{"m":815,"lo":57,"hi":59.2},{"m":830,"lo":57.2,"hi":59.5},{"m":840,"lo":57.2,"hi":61},{"m":841,"lo":57.2,"hi":65},{"m":842,"lo":57.2,"hi":80},{"m":843,"lo":57.2,"hi":60},{"m":845,"lo":56.8,"hi":59.5},{"m":860,"lo":55.5,"hi":58},{"m":864,"lo":55.3,"hi":57.8},{"m":865,"lo":55.3,"hi":65.5},{"m":866,"lo":55.3,"hi":57.8},{"m":875,"lo":55,"hi":57.5},{"m":879,"lo":55,"hi":58},{"m":880,"lo":55,"hi":80},{"m":881,"lo":55,"hi":78.5},{"m":882,"lo":55,"hi":60},{"m":884,"lo":55,"hi":68.6},{"m":885,"lo":54.6,"hi":57.5},{"m":886,"lo":54.5,"hi":57},{"m":894,"lo":55.5,"hi":57.6},{"m":895,"lo":55.5,"hi":64.7},{"m":896,"lo":55.5,"hi":57.6},{"m":900,"lo":55.8,"hi":58},{"m":915,"lo":56.2,"hi":58.5},{"m":916,"lo":56.2,"hi":72},{"m":917,"lo":56.2,"hi":58.5},{"m":930,"lo":56.7,"hi":59},{"m":945,"lo":57.7,"hi":60},{"m":953,"lo":58.8,"hi":60.5},{"m":954,"lo":58.9,"hi":65},{"m":955,"lo":59,"hi":61},{"m":957,"lo":59.1,"hi":61},{"m":958,"lo":59.1,"hi":66},{"m":959,"lo":59.1,"hi":61},{"m":975,"lo":59.5,"hi":61.5},{"m":978,"lo":59.5,"hi":61.5},{"m":979,"lo":59.5,"hi":69},{"m":980,"lo":59.5,"hi":62},{"m":982,"lo":59.5,"hi":79},{"m":983,"lo":59.5,"hi":62},{"m":988,"lo":59.5,"hi":61.5},{"m":1011,"lo":59.4,"hi":61.3},{"m":1012,"lo":59.4,"hi":63},{"m":1013,"lo":59.4,"hi":61.3},{"m":1050,"lo":59.3,"hi":61.3},{"m":1111,"lo":59.2,"hi":61.2},{"m":1112,"lo":59.2,"hi":79},{"m":1113,"lo":59.2,"hi":61.2},{"m":1169,"lo":59,"hi":61},{"m":1170,"lo":59,"hi":79},{"m":1171,"lo":59,"hi":61},{"m":1187,"lo":59,"hi":61},{"m":1188,"lo":59,"hi":78},{"m":1189,"lo":59,"hi":61},{"m":1192,"lo":59,"hi":61},{"m":1193,"lo":59,"hi":79.7},{"m":1194,"lo":59,"hi":61},{"m":1208,"lo":59,"hi":61},{"m":1209,"lo":59,"hi":64},{"m":1210,"lo":59,"hi":61},{"m":1215,"lo":59,"hi":61.5},{"m":1216,"lo":59,"hi":85.5},{"m":1217,"lo":59,"hi":78},{"m":1218,"lo":59,"hi":71},{"m":1219,"lo":59,"hi":61},{"m":1260,"lo":58.6,"hi":60.5},{"m":1276,"lo":58.7,"hi":61},{"m":1277,"lo":58.7,"hi":71.5},{"m":1278,"lo":58.7,"hi":67.7},{"m":1279,"lo":58.7,"hi":61},{"m":1330,"lo":58.3,"hi":60.5},{"m":1410,"lo":58,"hi":60.5},{"m":1411,"lo":58,"hi":63.5},{"m":1412,"lo":58,"hi":60.5},{"m":1440,"lo":57.8,"hi":60}],
"ba": [{"m":0,"A":36.8},{"m":7,"A":36.8},{"m":9,"A":35.5},{"m":16,"A":35.5},{"m":19,"A":45.8},{"m":23,"A":36.0},{"m":36,"A":36.5},{"m":40,"A":44.5},{"m":45,"A":46.8},{"m":48,"A":47.5},{"m":52,"A":44.0},{"m":56,"A":39.0},{"m":59,"A":40.5},{"m":62,"A":38.5},{"m":67,"A":41.0},{"m":71,"A":38.0},{"m":77,"A":37.0},{"m":80,"A":37.5},{"m":83,"A":49.5},{"m":88,"A":37.0},{"m":98,"A":36.5},{"m":117,"A":36.8},{"m":137,"A":36.5},{"m":140,"A":37.5},{"m":145,"A":36.5},{"m":156,"A":37.5},{"m":160,"A":36.5},{"m":195,"A":36.2},{"m":214,"A":36.2},{"m":252,"A":36.0},{"m":272,"A":36.8},{"m":291,"A":37.5},{"m":310,"A":38.0},{"m":330,"A":38.5},{"m":349,"A":38.5},{"m":368,"A":38.0},{"m":386,"A":38.5},{"m":390,"A":47.0},{"m":396,"A":39.0},{"m":407,"A":39.5},{"m":421,"A":41.5},{"m":436,"A":40.0},{"m":455,"A":41.0},{"m":475,"A":40.0},{"m":489,"A":41.0},{"m":504,"A":39.5},{"m":523,"A":39.0},{"m":542,"A":39.2},{"m":561,"A":40.0},{"m":576,"A":42.5},{"m":590,"A":43.5},{"m":600,"A":38.5},{"m":615,"A":42.0},{"m":621,"A":44.3},{"m":629,"A":40.0},{"m":643,"A":41.8},{"m":653,"A":39.5},{"m":672,"A":41.0},{"m":692,"A":40.0},{"m":711,"A":42.5},{"m":725,"A":40.5},{"m":745,"A":41.5},{"m":764,"A":40.0},{"m":779,"A":39.5},{"m":798,"A":40.0},{"m":812,"A":39.5},{"m":832,"A":38.5},{"m":841,"A":40.5},{"m":856,"A":37.0},{"m":876,"A":38.0},{"m":881,"A":44.2},{"m":890,"A":38.0},{"m":909,"A":38.5},{"m":928,"A":38.8},{"m":948,"A":40.0},{"m":967,"A":43.5},{"m":982,"A":47.0},{"m":991,"A":42.0},{"m":1005,"A":39.0},{"m":1025,"A":39.5},{"m":1044,"A":39.2},{"m":1063,"A":39.5},{"m":1083,"A":39.0},{"m":1097,"A":38.8},{"m":1112,"A":42.6},{"m":1122,"A":38.5},{"m":1141,"A":39.3},{"m":1160,"A":38.5},{"m":1170,"A":41.5},{"m":1180,"A":39.5},{"m":1189,"A":41.5},{"m":1199,"A":41.0},{"m":1208,"A":40.0},{"m":1216,"A":52.8},{"m":1223,"A":38.5},{"m":1237,"A":37.5},{"m":1257,"A":38.5},{"m":1277,"A":46.0},{"m":1286,"A":38.5},{"m":1297,"A":40.5},{"m":1315,"A":37.5},{"m":1334,"A":38.0},{"m":1353,"A":37.0},{"m":1373,"A":36.5},{"m":1392,"A":36.5},{"m":1400,"A":39.5},{"m":1411,"A":39.0},{"m":1421,"A":36.5},{"m":1435,"A":39.0},{"m":1440,"A":37.0}]
},
"vconcat": [
{
  "title": {"text": "average and peak noise level (1 min sampling)", "anchor": "start", "fontSize": 11.6, "fontWeight": "bold", "color": "black", "offset": 3},
  "width": 2283, "height": 504,
  "resolve": {"axis": {"y": "independent"}},
  "layer": [
    {"data": {"name": "pk"}, "transform": [{"fold": ["pZ", "pC", "pA"], "as": ["s", "v"]}],
     "mark": {"type": "point", "shape": "M-0.35,0L0.35,0M0,-0.35L0,0.35", "filled": false, "size": 144, "strokeWidth": 1, "opacity": 0.9},
     "encoding": {
       "x": {"field": "m", "type": "quantitative", "scale": {"domain": [0, 1440], "nice": false, "zero": false},
             "axis": {"values": [0,30,60,90,120,150,180,210,240,270,300,330,360,390,420,450,480,510,540,570,600,630,660,690,720,750,780,810,840,870,900,930,960,990,1020,1050,1080,1110,1140,1170,1200,1230,1260,1290,1320,1350,1380,1410,1440],
                      "title": "time", "labelExpr": "datum.value % 120 ? '' : datum.value == 1440 ? '00:00' : (datum.value < 600 ? '0' : '') + (datum.value / 60) + ':00'",
                      "labelOverlap": false, "labelFlush": false, "labelPadding": 3, "titlePadding": 4,
                      "tickSize": {"condition": {"test": "datum.value % 120", "value": 3.5}, "value": 7.5},
                      "grid": true,
                      "gridColor": {"condition": {"test": "datum.value % 120", "value": "#c9c4b4"}, "value": "#a9a9a9"},
                      "gridDash": {"condition": {"test": "datum.value % 120", "value": [1.5, 2]}, "value": []},
                      "gridWidth": {"condition": {"test": "datum.value % 120", "value": 0.8}, "value": 1.3}}},
       "y": {"field": "v", "type": "quantitative", "scale": {"domain": [24, 108], "nice": false, "zero": false},
             "axis": {"orient": "left", "title": "dB SPL", "values": [24,27,30,33,36,39,42,45,48,51,54,57,60,63,66,69,72,75,78,81,84,87,90,93,96,99,102,105,108],
                      "labelExpr": "datum.value % 12 ? '' : datum.label", "labelOverlap": false, "labelPadding": 5, "titlePadding": 8,
                      "tickSize": {"condition": {"test": "datum.value % 12", "value": 3.5}, "value": 7.5},
                      "grid": true,
                      "gridColor": {"condition": {"test": "datum.value % 12", "value": "#c4bfb0"}, "value": "#a9a9a9"},
                      "gridDash": {"condition": {"test": "datum.value % 12", "value": [4, 2]}, "value": []},
                      "gridWidth": {"condition": {"test": "datum.value % 12", "value": 0.8}, "value": 1.3}}},
       "color": {"field": "s", "type": "nominal",
                 "scale": {"domain": ["pZ", "pC", "pA"], "range": ["#1e90ff", "#ff00ff", "#2e8b57"]},
                 "legend": {"title": null, "orient": "none", "legendX": 2099, "legendY": 451, "zindex": 1, "padding": 5, "rowPadding": 0,
                            "fillColor": "#fff6dc", "strokeColor": "#d8bc8e", "cornerRadius": 3,
                            "labelFontSize": 9.5, "labelFont": "DejaVu Sans", "labelColor": "#111",
                            "symbolType": "M-0.3,0A0.3,0.3 0 1,0 0.3,0A0.3,0.3 0 1,0 -0.3,0Z", "symbolSize": 90, "symbolStrokeWidth": 3, "symbolOpacity": 1, "labelOffset": 10.5,
                            "labelExpr": "'peak dB(' + slice(datum.label, -1) + ')' + '\u00a0\u00a0\u00a0\u00a0\u00a0\u00a0\u00a0\u00a0\u00a0\u00a0\u00a0\u00a0\u00a0\u00a0\u00a0\u00a0\u00a0\u00a0\u00a0\u00a0\u00a0\u00a0\u00a0\u00a0\u00a0\u00a0\u00a0\u00a0\u00a0\u00a0\u00a0'"}}
     }},
    {"data": {"name": "zc"}, "transform": [{"fold": ["Z", "C"], "as": ["s", "v"]}],
     "mark": {"type": "line", "strokeWidth": 1.5},
     "encoding": {
       "x": {"field": "m", "type": "quantitative"},
       "y": {"field": "v", "type": "quantitative",
             "axis": {"orient": "right", "title": "dB SPL", "values": [24,27,30,33,36,39,42,45,48,51,54,57,60,63,66,69,72,75,78,81,84,87,90,93,96,99,102,105,108],
                      "labelExpr": "datum.value % 12 ? '' : datum.label", "labelOverlap": false, "labelPadding": 5, "titlePadding": 8, "grid": false,
                      "tickSize": {"condition": {"test": "datum.value % 12", "value": 3.5}, "value": 7.5}}},
       "stroke": {"field": "s", "type": "nominal",
                  "scale": {"domain": ["Z", "C", "A"], "range": ["#4682b4", "#da70d6", "#9acd32"]},
                  "legend": {"title": null, "orient": "none", "legendX": 2199, "legendY": 456, "zindex": 2, "padding": 0, "rowPadding": 0,
                             "labelFontSize": 9.5, "labelFont": "DejaVu Sans", "labelColor": "#111",
                             "symbolType": "M-1.52,0L3.29,0", "symbolSize": 90, "symbolStrokeWidth": 3, "labelOffset": 15.5,
                             "labelExpr": "'avg dB(' + datum.label + ')'"}}
     }},
    {"data": {"name": "a"}, "transform": [{"fold": ["A"], "as": ["s", "v"]}],
     "mark": {"type": "line", "strokeWidth": 1.5},
     "encoding": {
       "x": {"field": "m", "type": "quantitative"},
       "y": {"field": "v", "type": "quantitative", "axis": null},
       "stroke": {"field": "s", "type": "nominal"}
     }}
  ]
},
{
  "title": {"text": "average noise level (5 min with 15s min/max dB envelope)", "anchor": "start", "fontSize": 11.6, "fontWeight": "bold", "color": "black", "offset": 3},
  "width": 2283, "height": 504,
  "resolve": {"axis": {"y": "independent"}},
  "layer": [
    {"data": {"name": "env"},
     "mark": {"type": "area", "color": "#f08080", "opacity": 0.3},
     "encoding": {
       "x": {"field": "m", "type": "quantitative", "scale": {"domain": [0, 1440], "nice": false, "zero": false},
             "axis": {"values": [0,30,60,90,120,150,180,210,240,270,300,330,360,390,420,450,480,510,540,570,600,630,660,690,720,750,780,810,840,870,900,930,960,990,1020,1050,1080,1110,1140,1170,1200,1230,1260,1290,1320,1350,1380,1410,1440],
                      "title": "time", "labelExpr": "datum.value % 120 ? '' : datum.value == 1440 ? '00:00:00' : (datum.value < 600 ? '0' : '') + (datum.value / 60) + ':00:00'",
                      "labelOverlap": false, "labelFlush": false, "labelPadding": 3, "titlePadding": 4,
                      "tickSize": {"condition": {"test": "datum.value % 120", "value": 3.5}, "value": 7.5},
                      "grid": true,
                      "gridColor": {"condition": {"test": "datum.value % 120", "value": "#c9c4b4"}, "value": "#a9a9a9"},
                      "gridDash": {"condition": {"test": "datum.value % 120", "value": [1.5, 2]}, "value": []},
                      "gridWidth": {"condition": {"test": "datum.value % 120", "value": 0.8}, "value": 1.3}}},
       "y": {"field": "lo", "type": "quantitative", "scale": {"domain": [24, 108], "nice": false, "zero": false},
             "axis": {"orient": "left", "title": "dB SPL", "values": [24,27,30,33,36,39,42,45,48,51,54,57,60,63,66,69,72,75,78,81,84,87,90,93,96,99,102,105,108],
                      "labelExpr": "datum.value % 12 ? '' : datum.label", "labelOverlap": false, "labelPadding": 5, "titlePadding": 8,
                      "tickSize": {"condition": {"test": "datum.value % 12", "value": 3.5}, "value": 7.5},
                      "grid": true,
                      "gridColor": {"condition": {"test": "datum.value % 12", "value": "#c4bfb0"}, "value": "#a9a9a9"},
                      "gridDash": {"condition": {"test": "datum.value % 12", "value": [4, 2]}, "value": []},
                      "gridWidth": {"condition": {"test": "datum.value % 12", "value": 0.8}, "value": 1.3}}},
       "y2": {"field": "hi"}
     }},
    {"data": {"name": "bzc"}, "transform": [{"fold": ["Z", "C"], "as": ["s", "v"]}],
     "mark": {"type": "line", "strokeWidth": 2},
     "encoding": {
       "x": {"field": "m", "type": "quantitative"},
       "y": {"field": "v", "type": "quantitative",
             "axis": {"orient": "right", "title": "dB SPL", "values": [24,27,30,33,36,39,42,45,48,51,54,57,60,63,66,69,72,75,78,81,84,87,90,93,96,99,102,105,108],
                      "labelExpr": "datum.value % 12 ? '' : datum.label", "labelOverlap": false, "labelPadding": 5, "titlePadding": 8, "grid": false,
                      "tickSize": {"condition": {"test": "datum.value % 12", "value": 3.5}, "value": 7.5}}},
       "color": {"field": "s", "type": "nominal",
                 "scale": {"domain": ["Z", "C", "A"], "range": ["#dc143c", "#ff8c00", "#ffd700"]},
                 "legend": {"title": null, "orient": "bottom-right", "offset": 4, "padding": 5, "rowPadding": 0,
                            "fillColor": "#fff6dc", "strokeColor": "#d8bc8e", "cornerRadius": 3, "labelFontSize": 9.5, "labelFont": "DejaVu Sans", "labelColor": "#111",
                            "symbolType": "M-1.52,0L3.29,0", "symbolSize": 90, "symbolStrokeWidth": 3, "labelOffset": 15.5,
                            "labelExpr": "'dB(' + datum.label + ')'"}}
     }},
    {"data": {"name": "ba"}, "transform": [{"fold": ["A"], "as": ["s", "v"]}],
     "mark": {"type": "line", "strokeWidth": 2},
     "encoding": {
       "x": {"field": "m", "type": "quantitative"},
       "y": {"field": "v", "type": "quantitative", "axis": null},
       "color": {"field": "s", "type": "nominal"}
     }}
  ]
}
]
}
